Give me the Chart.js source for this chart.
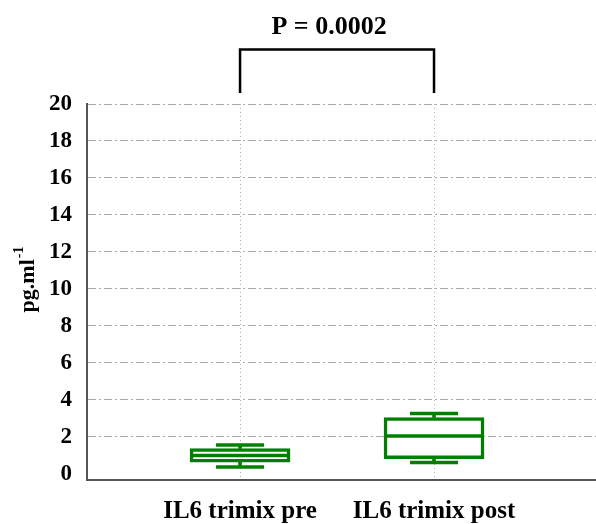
<!DOCTYPE html>
<html>
<head>
<meta charset="utf-8">
<script src="https://cdn.jsdelivr.net/npm/chart.js@4/dist/chart.umd.min.js"></script>
<style>
  html, body { margin: 0; padding: 0; background: #ffffff; }
  #wrap { width: 596px; height: 524px; }
</style>
</head>
<body>
<div id="wrap"><canvas id="c" width="596" height="524"></canvas></div>
<script>
// ---- data ----
const categories   = ['IL6 trimix pre', 'IL6 trimix post'];
const categoryPos  = [1, 2];
const whiskerLow   = [0.37, 0.61];
const boxLow       = [0.64, 0.82];
const median       = [1.00, 2.05];
const boxHigh      = [1.37, 3.05];
const whiskerHigh  = [1.56, 3.26];
const yTicks       = [0, 2, 4, 6, 8, 10, 12, 14, 16, 18, 20];
const bracketLow   = 20.6;
const bracketHigh  = 22.95;
const pValueLabel  = 'P = 0.0002';
const yTitleMain   = 'pg.ml';
const yTitleSup    = '-1';

const GREEN = '#008000';
const SERIF = '"Liberation Serif", "DejaVu Serif", serif';

const boxData   = categoryPos.map((x, i) => ({ x, y: [boxLow[i], boxHigh[i]] }));
const stemHigh  = categoryPos.map((x, i) => ({ x, y: [boxHigh[i], whiskerHigh[i]] }));
const stemLow   = categoryPos.map((x, i) => ({ x, y: [whiskerLow[i], boxLow[i]] }));
const medData   = categoryPos.map((x, i) => ({ x, y: median[i] }));
const capHigh   = categoryPos.map((x, i) => ({ x, y: whiskerHigh[i] }));
const capLow    = categoryPos.map((x, i) => ({ x, y: whiskerLow[i] }));
const bracket   = [
  { x: categoryPos[0], y: bracketLow },
  { x: categoryPos[0], y: bracketHigh },
  { x: categoryPos[1], y: bracketHigh },
  { x: categoryPos[1], y: bracketLow }
];

const annotations = {
  id: 'annotations',
  afterDraw(chart) {
    const ctx = chart.ctx;
    const xs = chart.scales.x;
    // p-value text above the bracket
    const cx = (xs.getPixelForValue(categoryPos[0]) + xs.getPixelForValue(categoryPos[1])) / 2 - 8;
    ctx.save();
    ctx.fillStyle = '#000';
    ctx.font = 'bold 26px ' + SERIF;
    ctx.textAlign = 'center';
    ctx.textBaseline = 'middle';
    ctx.fillText(pValueLabel, cx, 27);
    ctx.restore();
    // y axis title with superscript
    ctx.save();
    ctx.translate(28, 280);
    ctx.rotate(-Math.PI / 2);
    ctx.fillStyle = '#000';
    ctx.textBaseline = 'middle';
    ctx.font = 'bold 22px ' + SERIF;
    const w1 = ctx.measureText(yTitleMain).width;
    ctx.font = 'bold 14px ' + SERIF;
    const w2 = ctx.measureText(yTitleSup).width;
    const start = -(w1 + w2) / 2;
    ctx.font = 'bold 22px ' + SERIF;
    ctx.textAlign = 'left';
    ctx.fillText(yTitleMain, start, 0);
    ctx.font = 'bold 14px ' + SERIF;
    ctx.fillText(yTitleSup, start + w1 + 1, -9);
    ctx.restore();
  }
};

new Chart(document.getElementById('c'), {
  type: 'bar',
  data: {
    datasets: [
      { type: 'bar', data: stemHigh, backgroundColor: GREEN, borderWidth: 0, barThickness: 3, grouped: false, order: 3 },
      { type: 'bar', data: stemLow,  backgroundColor: GREEN, borderWidth: 0, barThickness: 3, grouped: false, order: 3 },
      { type: 'bar', data: boxData, backgroundColor: '#ffffff', borderColor: GREEN, borderWidth: 3.5, borderSkipped: false, barThickness: 100, grouped: false, order: 2 },
      { type: 'scatter', data: medData, pointStyle: 'line', pointRadius: 48, pointHoverRadius: 48, borderColor: GREEN, borderWidth: 3.5, order: 1 },
      { type: 'scatter', data: capHigh, pointStyle: 'line', pointRadius: 24, pointHoverRadius: 24, borderColor: GREEN, borderWidth: 3.5, order: 1 },
      { type: 'scatter', data: capLow,  pointStyle: 'line', pointRadius: 24, pointHoverRadius: 24, borderColor: GREEN, borderWidth: 3.5, order: 1 },
      { type: 'line', data: bracket, borderColor: '#000', borderWidth: 2.5, pointRadius: 0, fill: false, tension: 0, clip: false, order: 0 }
    ]
  },
  options: {
    responsive: false,
    animation: false,
    events: [],
    layout: { autoPadding: false, padding: { top: 104, right: 0, left: 0, bottom: 0 } },
    plugins: { legend: { display: false }, tooltip: { enabled: false }, title: { display: false } },
    scales: {
      x: {
        type: 'linear',
        offset: false,
        min: 0.211,
        max: 2.835,
        afterBuildTicks(scale) { scale.ticks = categoryPos.map(v => ({ value: v })); },
        afterFit(scale) { scale.height = 44; scale.paddingLeft = 0; scale.paddingRight = 0; },
        ticks: {
          callback: (v) => categories[categoryPos.indexOf(v)],
          font: { family: SERIF, size: 25, weight: 'bold' },
          color: '#000',
          padding: 17,
          maxRotation: 0,
          autoSkip: false
        },
        grid: { offset: false, color: '#b0b0b0', lineWidth: 1, drawTicks: false },
        border: { display: true, color: '#555', width: 2, dash: [1, 3] }
      },
      y: {
        min: -0.33,
        max: 20,
        afterBuildTicks(scale) { scale.ticks = yTicks.map(v => ({ value: v })); },
        afterFit(scale) { scale.width = 87; scale.paddingTop = 0; scale.paddingBottom = 0; },
        ticks: {
          font: { family: SERIF, size: 23, weight: 'bold' },
          color: '#000',
          padding: 15
        },
        grid: {
          color: (ctx) => (ctx.tick && ctx.tick.value === 0 ? 'rgba(0,0,0,0)' : '#a8a8a8'),
          lineWidth: 1,
          drawTicks: false
        },
        border: { display: true, color: '#555', width: 2, dash: [8, 3, 2, 3] }
      }
    }
  },
  plugins: [annotations]
});
</script>
</body>
</html>
